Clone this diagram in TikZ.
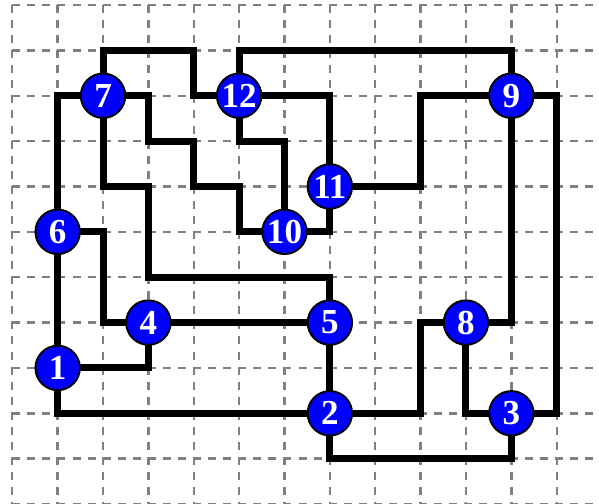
\documentclass[tikz,border=0pt]{standalone}
\usepackage{fontspec}
\setmainfont{Liberation Serif}
\usetikzlibrary{backgrounds}
\begin{document}
\begin{tikzpicture}[
  vtx/.style={circle, draw=black, line width=1.2pt, fill=blue, text=white,
    font=\fontsize{22}{22}\selectfont\bfseries, minimum size=0.98cm, inner sep=0pt},
  wire/.style={line width=4.4pt, line join=miter},
  gridline/.style={draw=gray, line width=1.5pt, dash pattern=on 5pt off 4.45pt}
]
\useasboundingbox (-0.271,0.110) rectangle (12.932,-10.998);
\node[vtx] (n7) at (2,-2) {7};
\node[vtx] (n12) at (5,-2) {12};
\node[vtx] (n9) at (11,-2) {9};
\node[vtx] (n11) at (7,-4) {11};
\node[vtx] (n10) at (6,-5) {10};
\node[vtx] (n6) at (1,-5) {6};
\node[vtx] (n4) at (3,-7) {4};
\node[vtx] (n5) at (7,-7) {5};
\node[vtx] (n8) at (10,-7) {8};
\node[vtx] (n1) at (1,-8) {1};
\node[vtx] (n2) at (7,-9) {2};
\node[vtx] (n3) at (11,-9) {3};
\begin{pgfonlayer}{background}
\begin{scope}
\clip (-0.271,0.110) rectangle (12.932,-10.998);
\foreach \i in {0,...,13} \draw[gridline] (\i,0) -- (\i,-11.2);
\foreach \j in {0,...,11} \draw[gridline] (0,-\j) -- (13.2,-\j);
\end{scope}
\draw[wire] (n7.center) -- (2,-1) -- (4,-1) -- (4,-2) -- (n12.center);
\draw[wire] (n7.center) -| (n6.center);
\draw[wire] (n7.center) -- (3,-2) -- (3,-3) -- (4,-3) -- (4,-4) -- (5,-4) -- (5,-5) -- (n10.center);
\draw[wire] (n7.center) -- (2,-4) -- (3,-4) -- (3,-6) -- (7,-6) -- (n5.center);
\draw[wire] (n12.center) -- (5,-1) -- (11,-1) -- (n9.center);
\draw[wire] (n12.center) -| (n11.center);
\draw[wire] (n12.center) -- (5,-3) -- (6,-3) -- (n10.center);
\draw[wire] (n6.center) -- (2,-5) -- (2,-7) -- (n4.center);
\draw[wire] (n6.center) -- (n1.center);
\draw[wire] (n1.center) -| (n4.center);
\draw[wire] (n1.center) |- (n2.center);
\draw[wire] (n4.center) -- (n5.center);
\draw[wire] (n11.center) -- (9,-4) -- (9,-2) -- (n9.center);
\draw[wire] (n11.center) |- (n10.center);
\draw[wire] (n9.center) |- (n8.center);
\draw[wire] (n9.center) -- (12,-2) -- (12,-9) -- (n3.center);
\draw[wire] (n5.center) -- (n2.center);
\draw[wire] (n2.center) -- (9,-9) -- (9,-7) -- (n8.center);
\draw[wire] (n8.center) |- (n3.center);
\draw[wire] (n2.center) -- (7,-10) -- (11,-10) -- (n3.center);
\end{pgfonlayer}
\end{tikzpicture}
\end{document}
